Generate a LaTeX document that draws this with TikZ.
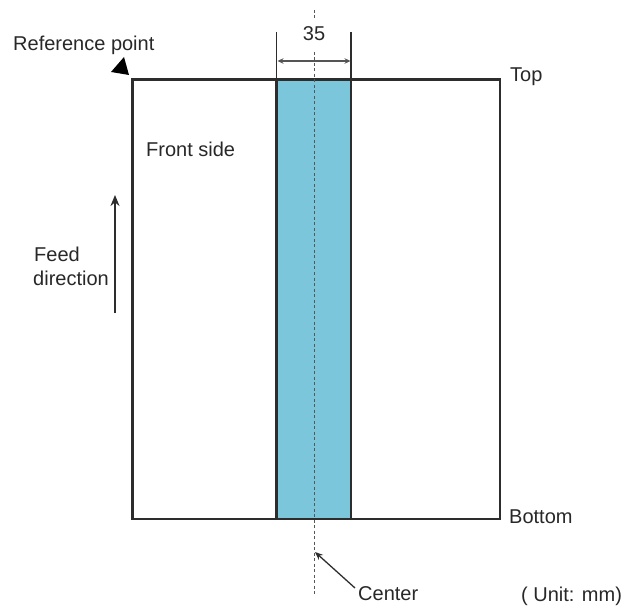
\documentclass[tikz,border=0pt]{standalone}
\usepackage{fontspec}
\setmainfont{Liberation Sans}
\usetikzlibrary{arrows.meta}
\definecolor{bandblue}{RGB}{124,198,219}
\definecolor{inkline}{RGB}{45,45,45}
\definecolor{dimline}{RGB}{85,85,85}
\definecolor{txt}{RGB}{40,40,40}
\tikzset{
  x=1pt,y=-1pt,
  lbl/.style={inner sep=0pt,anchor=west,text=txt,font=\fontsize{20}{22}\selectfont},
  heavy/.style={draw=inkline,line width=2.2pt},
  thin line/.style={draw=inkline,line width=1.3pt},
  dim line/.style={draw=dimline,line width=1.4pt},
  centre/.style={draw=inkline!80,line width=1pt,dash pattern=on 3pt off 2.5pt},
}
\begin{document}
\begin{tikzpicture}
\useasboundingbox[fill=white] (0,0) rectangle (626,612);
% sheet and band
\node[heavy,inner sep=0pt,outer sep=0pt,minimum width=367.5pt,minimum height=439.5pt,anchor=north west] (sheet) at (132.5,79.5) {};
\node[heavy,fill=bandblue,inner sep=0pt,outer sep=0pt,minimum width=74.5pt,minimum height=439.5pt,anchor=north west] (band) at (276.5,79.5) {};
% dimension
\coordinate (dl) at (276.5,32);
\coordinate (dr) at (351,32);
\draw[thin line] (dl) -- (dl |- band.north);
\draw[thin line] (dr) -- (dr |- band.north);
\coordinate (al) at (277.5,61);
\coordinate (ar) at (350.5,61);
\draw[dim line,{Stealth[length=6pt,width=5.5pt]}-{Stealth[length=6pt,width=5.5pt]}] (al) -- (ar);
% centre line
\coordinate (ct) at (314,10);
\coordinate (cb) at (314,596);
\node[lbl,anchor=center] (dim) at (314,34) {35};
\draw[centre] (ct) -- (314,19);
\draw[centre] (314,52) -- (cb);
% reference point
\fill[black] (111,72) -- (124,57) -- (129,75) -- cycle;
\node[lbl] (ref) at (13,45) {Reference point};
\node[lbl] (front) at (146,149) {Front side};
\node[lbl] (top) at (510,77) {Top};
\node[lbl] (bottom) at (509,517) {Bottom};
\node[lbl] (feed) at (34,254) {Feed};
\node[lbl] (dir) at (33,278) {direction};
\node[lbl] (center) at (358,594) {Center};
\node[lbl] (unit) at (521,596) {( Unit: mm)};
% feed arrow
\coordinate (fa) at (115,313);
\coordinate (fb) at (115,195);
\draw[heavy,-{Stealth[length=11pt,width=9pt]}] (fa) -- (fb);
% centre arrow
\coordinate (cp) at (315,552);
\draw[thin line,-{Stealth[length=8pt,width=6.5pt]}] (center.west) ++(-3,-6) -- (cp);
\end{tikzpicture}
\end{document}
